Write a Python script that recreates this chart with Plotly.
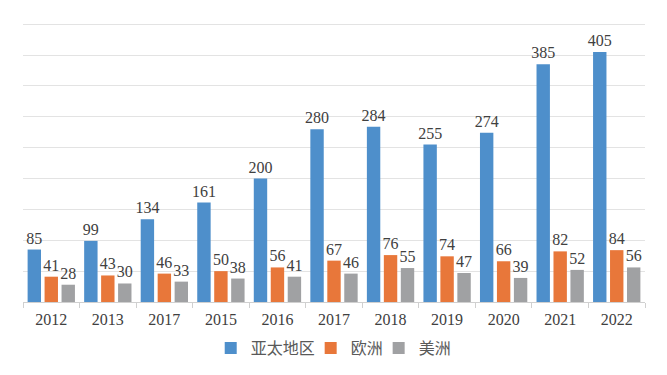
import plotly.graph_objects as go

years = ["2012", "2013", "2017", "2015", "2016", "2017", "2018", "2019", "2020", "2021", "2022"]
asia_pacific = [85, 99, 134, 161, 200, 280, 284, 255, 274, 385, 405]
europe = [41, 43, 46, 50, 56, 67, 76, 74, 66, 82, 84]
americas = [28, 30, 33, 38, 41, 46, 55, 47, 39, 52, 56]

series = [
    ("亚太地区", asia_pacific, "#4E8FCB", "legend"),
    ("欧洲", europe, "#E8773A", "legend2"),
    ("美洲", americas, "#A0A1A3", "legend3"),
]
legend_x = {"legend": 0.3018, "legend2": 0.4625, "legend3": 0.5718}

idx = list(range(len(years)))

fig = go.Figure()
for name, vals, color, lg in series:
    fig.add_trace(go.Bar(
        x=idx, y=vals, name=name, legend=lg,
        marker=dict(color=color, line=dict(width=0)),
        text=[str(v) for v in vals],
        textposition="outside",
        constraintext="none",
        textfont=dict(family="Liberation Serif", size=16, color="#404040"),
        cliponaxis=False,
    ))

legend_style = dict(orientation="h", xanchor="left", y=-0.1655, yanchor="middle",
                    font=dict(family="Noto Sans CJK SC", size=16, color="#595959"),
                    itemwidth=30, bgcolor="rgba(0,0,0,0)")

fig.update_layout(
    width=651, height=359,
    margin=dict(l=15, r=14, t=15, b=65, autoexpand=False),
    paper_bgcolor="white", plot_bgcolor="white",
    barmode="group", bargap=0.1, bargroupgap=0.21,
    showlegend=True,
    legend=dict(x=legend_x["legend"], **legend_style),
    legend2=dict(x=legend_x["legend2"], **legend_style),
    legend3=dict(x=legend_x["legend3"], **legend_style),
    xaxis=dict(type="category", tickmode="array", tickvals=idx, ticktext=years,
               tickson="boundaries", ticks="outside", ticklen=5, tickcolor="#D0D0D0",
               ticklabelstandoff=3,
               showline=True, linecolor="#D0D0D0", linewidth=1, showgrid=False,
               automargin=False,
               tickfont=dict(family="Liberation Serif", size=16, color="#404040")),
    yaxis=dict(range=[0, 452], tickmode="array", tickvals=[50, 100, 150, 200, 250, 300, 350, 400, 450],
               showticklabels=False, showgrid=True, automargin=False,
               gridcolor="#E3E3E3", gridwidth=1, zeroline=False, showline=False),
)

fig.write_html("out.html")
